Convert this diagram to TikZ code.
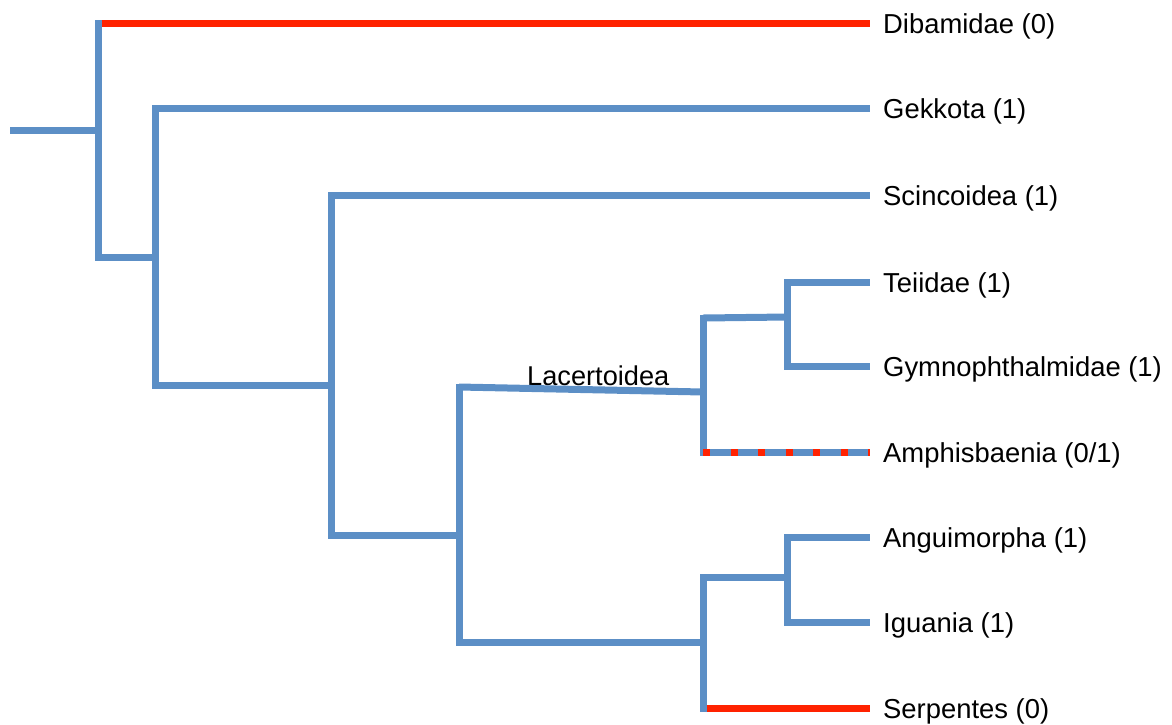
\documentclass[tikz,border=0pt]{standalone}
\usepackage{fontspec}
\setmainfont{Liberation Sans}
\definecolor{tblue}{RGB}{92,143,198}
\definecolor{tred}{RGB}{255,34,0}
\tikzset{
  br/.style={draw=tblue,line width=7pt,line cap=butt},
  brv/.style={draw=tblue,line width=7pt,line cap=rect},
  lost/.style={draw=tred,line width=7pt,line cap=butt},
  amb/.style={draw=tred,line width=7pt,line cap=butt,dash pattern=on 7pt off 20.5pt},
  tip/.style={anchor=base west,inner sep=0pt,font=\fontsize{27.4}{32}\selectfont},
  clade/.style={anchor=base west,inner sep=0pt,font=\fontsize{27.2}{32}\selectfont}
}
\begin{document}
\begin{tikzpicture}[x=1pt,y=-1pt]
\useasboundingbox (0,0) rectangle (1172,724);
% internal node coordinates
\coordinate (rootst) at (10,130);
\coordinate (n0) at (98,130);
\coordinate (n0t) at (98,23);
\coordinate (n0b) at (98,257);
\coordinate (n1t) at (155,108);
\coordinate (n1b) at (155,385);
\coordinate (n1a) at (155,257);
\coordinate (n2t) at (331,195);
\coordinate (n2b) at (331,535);
\coordinate (n2a) at (331,385);
\coordinate (n3t) at (459,387);
\coordinate (n3b) at (459,642);
\coordinate (n3a) at (459,535);
\coordinate (n4t) at (703,318);
\coordinate (n4b) at (703,452);
\coordinate (n4a) at (703,392);
\coordinate (n5t) at (787,282);
\coordinate (n5b) at (787,366);
\coordinate (n5a) at (787,317);
\coordinate (n6t) at (703,577);
\coordinate (n6b) at (703,708);
\coordinate (n6a) at (703,642);
\coordinate (n7t) at (787,537);
\coordinate (n7b) at (787,622);
\coordinate (n7a) at (787,577);
% tip ends
\coordinate (eDib) at (870,23);
\coordinate (eGek) at (870,108);
\coordinate (eSci) at (870,195);
\coordinate (eTei) at (870,282);
\coordinate (eGym) at (870,366);
\coordinate (eAmp) at (870,452);
\coordinate (eAng) at (870,537);
\coordinate (eIgu) at (870,622);
\coordinate (eSer) at (870,708);
% labels
\node[tip] (lDib) at (883,33) {Dibamidae (0)};
\node[tip] (lGek) at (883,118) {Gekkota (1)};
\node[tip] (lSci) at (883,205) {Scincoidea (1)};
\node[tip] (lTei) at (883,292) {Teiidae (1)};
\node[tip] (lGym) at (883,376) {Gymnophthalmidae (1)};
\node[tip] (lAmp) at (883,462) {Amphisbaenia (0/1)};
\node[tip] (lAng) at (883,547) {Anguimorpha (1)};
\node[tip] (lIgu) at (883,632) {Iguania (1)};
\node[tip] (lSer) at (883,718) {Serpentes (0)};
\node[clade] (lLac) at (527,385) {Lacertoidea};
% verticals
\draw[brv] (n0t) -- (n0b);
\draw[brv] (n1t) -- (n1b);
\draw[brv] (n2t) -- (n2b);
\draw[brv] (n3t) -- (n3b);
\draw[brv] (n4t) -- (n4b);
\draw[brv] (n5t) -- (n5b);
\draw[brv] (n6t) -- (n6b);
\draw[brv] (n7t) -- (n7b);
% horizontals
\draw[br] (rootst) -- (n0);
\draw[br] (n0b) -- (n1a);
\draw[br] (n1b) -- (n2a);
\draw[br] (n2b) -- (n3a);
\draw[br] (n3t) -- (n4a);
\draw[br] (n4t) -- (n5a);
\draw[br] (n3b) -- (n6a);
\draw[br] (n6t) -- (n7a);
\draw[br] (n1t) -- (eGek);
\draw[br] (n2t) -- (eSci);
\draw[br] (n5t) -- (eTei);
\draw[br] (n5b) -- (eGym);
\draw[br] (n7t) -- (eAng);
\draw[br] (n7b) -- (eIgu);
\draw[br] (n4b) -- (eAmp);
\draw[amb] (n4b) -- (eAmp);
\draw[lost] ([xshift=3.5pt]n0t) -- (eDib);
\draw[lost] ([xshift=3.5pt]n6b) -- (eSer);
\end{tikzpicture}
\end{document}
